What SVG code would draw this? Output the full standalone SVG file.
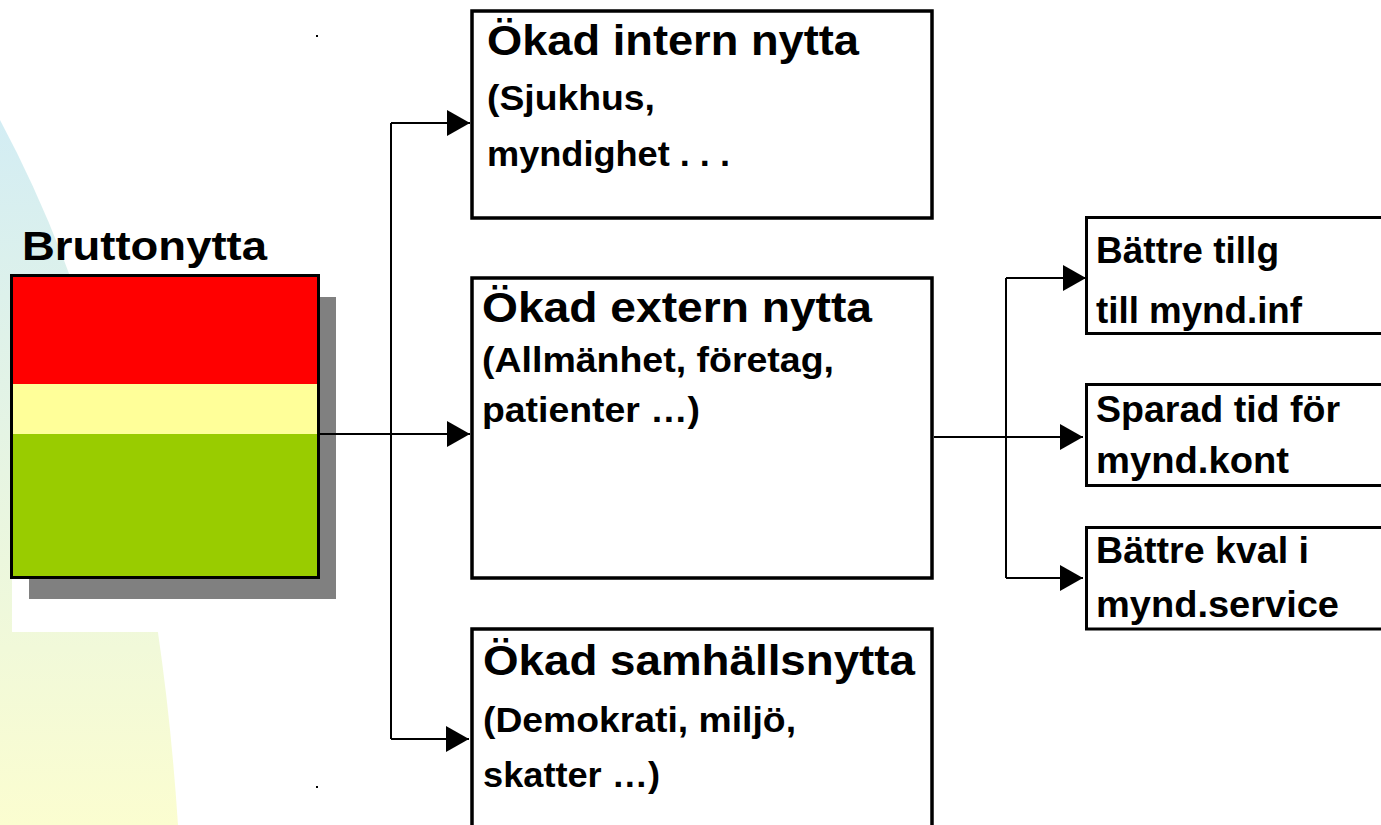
<svg xmlns="http://www.w3.org/2000/svg" width="1381" height="825" viewBox="0 0 1381 825">
<style>
text{font-family:"Liberation Sans",Arial,sans-serif;font-weight:bold;fill:#000}
.b{font-size:40px}
.t{font-size:42px}
.s{font-size:35px}
.r{font-size:36px}
.box{fill:#fff;stroke:#000;stroke-width:3.5}
.rbox{fill:#fff;stroke:#000;stroke-width:3}
.con{fill:none;stroke:#000;stroke-width:2}
</style>
<defs>
<linearGradient id="bg" x1="0" y1="120" x2="0" y2="825" gradientUnits="userSpaceOnUse">
<stop offset="0" stop-color="#d3edf4"/>
<stop offset="1" stop-color="#fbfdd0"/>
</linearGradient>
<marker id="arr" markerUnits="userSpaceOnUse" markerWidth="23" markerHeight="26" viewBox="0 0 23 26" refX="23" refY="13" orient="auto">
<path d="M0,0 L23,13 L0,26 Z" fill="#000"/>
</marker>
</defs>
<rect width="1381" height="825" fill="#fff"/>
<g id="background">
<path d="M0,120 Q150,400 178,825 L0,825 Z" fill="url(#bg)"/>
<rect x="12" y="275" width="330" height="357" fill="#fff"/>
<rect x="316" y="35" width="2" height="2" fill="#000"/>
<rect x="316" y="786" width="2" height="2" fill="#000"/>
</g>
<g id="bruttonytta">
<text x="22" y="260" class="b" textLength="245" lengthAdjust="spacingAndGlyphs">Bruttonytta</text>
<rect x="29" y="297" width="307" height="302" fill="#808080"/>
<rect x="11.5" y="275.5" width="307" height="302" fill="#fff" stroke="#000" stroke-width="3"/>
<rect x="13" y="277" width="304" height="107" fill="#ff0000"/>
<rect x="13" y="384" width="304" height="50" fill="#ffff99"/>
<rect x="13" y="434" width="304" height="142" fill="#99cc00"/>
</g>
<g id="connectors">
<path class="con" d="M320,434 H470" marker-end="url(#arr)"/>
<path class="con" d="M391,123 V739"/>
<path class="con" d="M391,123 H470" marker-end="url(#arr)"/>
<path class="con" d="M391,739 H469" marker-end="url(#arr)"/>
<path class="con" d="M934,437 H1083" marker-end="url(#arr)"/>
<path class="con" d="M1006,278 V578"/>
<path class="con" d="M1006,278 H1086" marker-end="url(#arr)"/>
<path class="con" d="M1006,578 H1083" marker-end="url(#arr)"/>
</g>
<g id="intern">
<rect class="box" x="472" y="11" width="460" height="207"/>
<text x="487" y="55" class="t" textLength="372" lengthAdjust="spacingAndGlyphs">Ökad intern nytta</text>
<text x="487" y="110" class="s" textLength="168" lengthAdjust="spacingAndGlyphs">(Sjukhus,</text>
<text x="487" y="166" class="s" textLength="243" lengthAdjust="spacingAndGlyphs">myndighet . . .</text>
</g>
<g id="extern">
<rect class="box" x="472" y="278" width="460" height="300"/>
<text x="482" y="322" class="t" textLength="390" lengthAdjust="spacingAndGlyphs">Ökad extern nytta</text>
<text x="482" y="372" class="s" textLength="352" lengthAdjust="spacingAndGlyphs">(Allmänhet, företag,</text>
<text x="482" y="422" class="s" textLength="218" lengthAdjust="spacingAndGlyphs">patienter …)</text>
</g>
<g id="samhall">
<rect class="box" x="472" y="629" width="460" height="230"/>
<text x="483" y="675" class="t" textLength="432" lengthAdjust="spacingAndGlyphs">Ökad samhällsnytta</text>
<text x="483" y="732" class="s" textLength="313" lengthAdjust="spacingAndGlyphs">(Demokrati, miljö,</text>
<text x="483" y="787" class="s" textLength="177" lengthAdjust="spacingAndGlyphs">skatter …)</text>
</g>
<g id="tillg">
<rect class="rbox" x="1086.5" y="217.5" width="310" height="116"/>
<text x="1096" y="263" class="r" textLength="183" lengthAdjust="spacingAndGlyphs">Bättre tillg</text>
<text x="1096" y="323" class="r" textLength="206" lengthAdjust="spacingAndGlyphs">till mynd.inf</text>
</g>
<g id="tid">
<rect class="rbox" x="1086.5" y="384.5" width="310" height="101"/>
<text x="1096" y="422" class="r" textLength="244" lengthAdjust="spacingAndGlyphs">Sparad tid för</text>
<text x="1096" y="473" class="r" textLength="193" lengthAdjust="spacingAndGlyphs">mynd.kont</text>
</g>
<g id="kval">
<rect class="rbox" x="1086.5" y="527.5" width="310" height="101.5"/>
<text x="1096" y="563" class="r" textLength="213" lengthAdjust="spacingAndGlyphs">Bättre kval i</text>
<text x="1096" y="617" class="r" textLength="243" lengthAdjust="spacingAndGlyphs">mynd.service</text>
</g>
</svg>
